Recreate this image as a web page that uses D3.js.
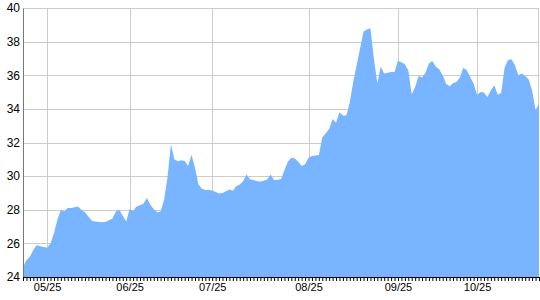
<!DOCTYPE html>
<html>
<head>
<meta charset="utf-8">
<script src="https://cdn.jsdelivr.net/npm/d3@7"></script>
<style>
  body { margin: 0; background: #fff; }
  text { font-family: Arial, "Liberation Sans", sans-serif; fill: #000; }
</style>
</head>
<body>
<div id="chart"></div>
<script>
// one value per trading day
var values = [
  24.6, 25.0, 25.2, 25.6, 25.9, 25.83, 25.78, 25.74, 26.0, 26.6,
  27.4, 28.0, 27.9, 28.1, 28.1, 28.15, 28.2, 28.0, 27.85, 27.6,
  27.35, 27.3, 27.27, 27.25, 27.27, 27.38, 27.48, 27.9, 28.0, 27.65,
  27.3, 28.04, 27.92, 28.2, 28.27, 28.35, 28.7, 28.3, 28.05, 27.85,
  27.9, 28.6, 29.9, 31.9, 31.0, 30.88, 30.95, 30.9, 30.6, 31.25,
  30.5, 29.5, 29.25, 29.17, 29.17, 29.15, 29.05, 28.97, 29.0, 29.1,
  29.2, 29.13, 29.4, 29.5, 29.7, 30.1, 29.82, 29.77, 29.7, 29.68,
  29.72, 29.8, 30.1, 29.75, 29.78, 29.82, 30.35, 30.85, 31.1, 31.05,
  30.85, 30.6, 30.7, 31.1, 31.2, 31.22, 31.25, 32.3, 32.55, 32.8,
  33.4, 33.17, 33.8, 33.6, 33.6, 34.4, 35.6, 36.6, 37.6, 38.6,
  38.72, 38.79, 37.0, 35.52, 36.5, 36.1, 36.15, 36.2, 36.2, 36.86,
  36.78, 36.65, 36.3, 34.85, 35.3, 35.95, 35.87, 36.15, 36.7, 36.85,
  36.5, 36.35, 36.0, 35.5, 35.35, 35.52, 35.6, 35.87, 36.45, 36.3,
  35.9, 35.5, 34.82, 35.0, 34.98, 34.7, 35.1, 35.4, 34.84, 34.95,
  36.45, 36.9, 36.95, 36.6, 36.0, 36.1, 35.95, 35.75, 35.1, 33.93,
  34.3
];
var tickLabels = ["05/25", "06/25", "07/25", "08/25", "09/25", "10/25"];
var tickIndex = [7, 31, 55, 83, 109, 132];
var yTicks = [24, 26, 28, 30, 32, 34, 36, 38, 40];

var svgWidth = 540;
var svgHeight = 300;
var margin = { top: 8, right: 1, bottom: 23, left: 23 };
var width = svgWidth - margin.left - margin.right;
var height = svgHeight - margin.top - margin.bottom;

var svg = d3.select("#chart")
  .append("svg")
  .attr("width", svgWidth)
  .attr("height", svgHeight);

var chartGroup = svg.append("g")
  .attr("transform", `translate(${margin.left}, ${margin.top})`);

var xScale = d3.scaleLinear()
  .domain([0, values.length - 1])
  .range([0, width]);

var yScale = d3.scaleLinear()
  .domain([24, 40])
  .range([height, 0]);

// gridlines
chartGroup.append("g")
  .selectAll("line")
  .data(yTicks)
  .enter()
  .append("line")
  .attr("x1", 0)
  .attr("x2", width)
  .attr("y1", d => Math.round(yScale(d)) + 0.5)
  .attr("y2", d => Math.round(yScale(d)) + 0.5)
  .attr("stroke", "#cccccc");

chartGroup.append("g")
  .selectAll("line")
  .data(tickIndex)
  .enter()
  .append("line")
  .attr("x1", d => Math.round(xScale(d)) + 0.5)
  .attr("x2", d => Math.round(xScale(d)) + 0.5)
  .attr("y1", 0)
  .attr("y2", height)
  .attr("stroke", "#cccccc");

chartGroup.append("line")
  .attr("x1", width - 0.5).attr("x2", width - 0.5)
  .attr("y1", 0).attr("y2", height)
  .attr("stroke", "#cccccc");

// area
var area = d3.area()
  .x((d, i) => xScale(i))
  .y0(height)
  .y1(d => yScale(d));

chartGroup.append("path")
  .datum(values)
  .attr("d", area)
  .attr("fill", "#78b4ff");

// y axis
var yAxis = d3.axisLeft(yScale)
  .tickValues(yTicks)
  .tickSize(0)
  .tickPadding(3);

var yG = chartGroup.append("g").call(yAxis);
yG.select(".domain").attr("stroke", "#777777");
yG.selectAll("text").attr("font-size", 12).attr("font-family", "Arial, 'Liberation Sans', sans-serif");

// x axis: small tick per day, labels at month marks
var xAxis = d3.axisBottom(xScale)
  .tickValues(d3.range(values.length))
  .tickSize(4)
  .tickSizeOuter(0)
  .tickFormat(d => {
    var k = tickIndex.indexOf(d);
    return k >= 0 ? tickLabels[k] : "";
  })
  .tickPadding(2);

var xG = chartGroup.append("g")
  .attr("transform", `translate(0,${height})`)
  .call(xAxis);
xG.select(".domain").attr("stroke", "#000");
xG.selectAll("text").attr("font-size", 11).attr("font-family", "Arial, 'Liberation Sans', sans-serif");
</script>
</body>
</html>
